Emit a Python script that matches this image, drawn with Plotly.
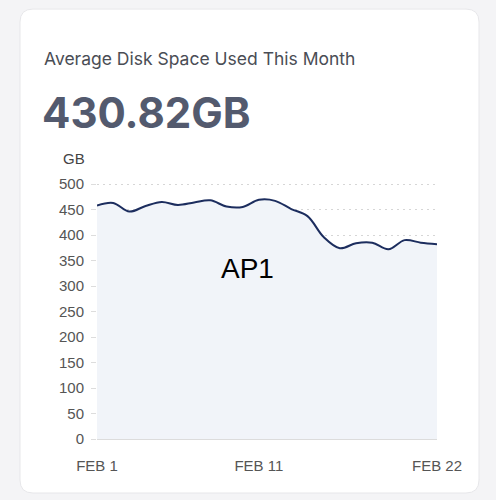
import plotly.graph_objects as go

# daily values (GB)
dates = [f"2024-02-{d:02d}" for d in range(1, 23)]
used_gb = [458, 463, 446, 457, 465, 459, 464, 468, 456, 455, 469,
           467, 451, 437, 396, 374, 384, 385, 372, 390, 385, 382]

tick_dates = ["2024-02-01", "2024-02-11", "2024-02-22"]
tick_text = ["FEB 1", "FEB 11", "FEB 22"]
y_ticks = list(range(0, 501, 50))

title_text = "Average Disk Space Used This Month"
big_number = "430.82GB"
series_label = "AP1"

W, H = 496, 500
Y_MAX = 504
L, R, B = 97, 437, 439          # plot area in pixels
T = B - 255 * Y_MAX / 500       # keep 500 at y=184


def to_paper(px, py):
    return (px - L) / (R - L), (B - py) / (B - T)


def rounded_rect(x0, y0, x1, y1, r):
    def p(x, y):
        a, b = to_paper(x, y)
        return f"{a:.5f},{b:.5f}"
    pts = [
        "M " + p(x0 + r, y0),
        "L " + p(x1 - r, y0),
        "Q " + p(x1, y0) + " " + p(x1, y0 + r),
        "L " + p(x1, y1 - r),
        "Q " + p(x1, y1) + " " + p(x1 - r, y1),
        "L " + p(x0 + r, y1),
        "Q " + p(x0, y1) + " " + p(x0, y1 - r),
        "L " + p(x0, y0 + r),
        "Q " + p(x0, y0) + " " + p(x0 + r, y0),
    ]
    return " ".join(pts) + " Z"


fig = go.Figure(go.Scatter(
    x=dates, y=used_gb,
    mode="lines",
    line=dict(color="#1c2d5e", width=2, shape="spline", smoothing=1.0),
    fill="tozeroy", fillcolor="#f1f4f9",
    hoverinfo="skip",
))

fig.add_shape(type="path", xref="paper", yref="paper",
              path=rounded_rect(20, 9, 479, 493, 13),
              fillcolor="white", line=dict(color="#e7e7ea", width=1),
              layer="below")

fx, fy = to_paper(42, 58)
fig.add_annotation(text=title_text, xref="paper", yref="paper", x=fx, y=fy,
                   xanchor="left", yanchor="middle", showarrow=False,
                   font=dict(family="Inter", size=17.5, color="#4a4d55"))
fx, fy = to_paper(40, 112)
fig.add_annotation(text=f"<b>{big_number}</b>", xref="paper", yref="paper", x=fx, y=fy,
                   xanchor="left", yanchor="middle", showarrow=False,
                   font=dict(family="Inter", size=42, color="#535a6e"))
fx, fy = to_paper(61, 158)
fig.add_annotation(text="GB", xref="paper", yref="paper", x=fx, y=fy,
                   xanchor="left", yanchor="middle", showarrow=False,
                   font=dict(family="Liberation Sans", size=15, color="#444"))
fx, fy = to_paper(247, 268)
fig.add_annotation(text=series_label, xref="paper", yref="paper", x=fx, y=fy,
                   xanchor="center", yanchor="middle", showarrow=False,
                   font=dict(family="Liberation Sans", size=28, color="black"))

fig.update_xaxes(
    range=[dates[0], dates[-1]],
    tickvals=tick_dates, ticktext=tick_text,
    showgrid=False, zeroline=False,
    showline=True, linecolor="#dcdcdc", linewidth=1,
    ticks="", ticklabelstandoff=13,
    tickfont=dict(family="Liberation Sans", size=15, color="#555"),
)
fig.update_yaxes(
    range=[0, Y_MAX], tickvals=y_ticks,
    showgrid=True, gridcolor="#d6d6d6", griddash="2px,4px", gridwidth=1,
    zeroline=False, showline=False,
    ticks="outside", ticklen=5, tickcolor="#dddddd",
    ticklabelstandoff=4,
    tickfont=dict(family="Liberation Sans", size=15, color="#555"),
)

fig.update_layout(
    width=W, height=H, autosize=False,
    margin=dict(l=L, r=W - R, t=T, b=H - B, pad=0),
    paper_bgcolor="#f4f4f6", plot_bgcolor="rgba(0,0,0,0)",
    showlegend=False,
)

fig.write_html("out.html", config={"displayModeBar": False},
               post_script="document.body.style.margin='0';")
